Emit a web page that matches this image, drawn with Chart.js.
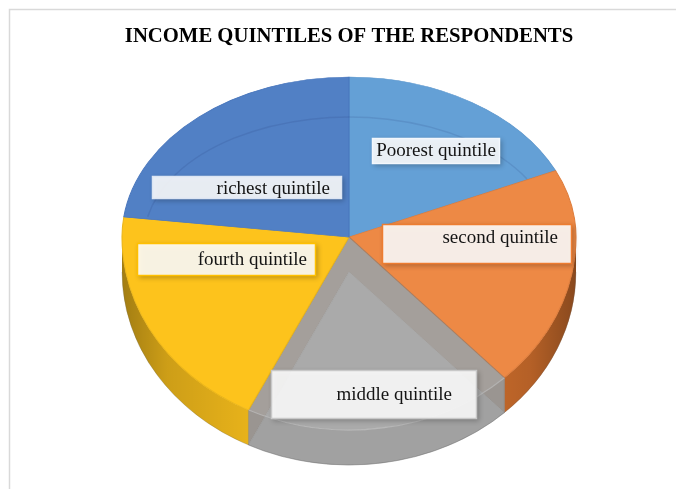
<!DOCTYPE html>
<html>
<head>
<meta charset="utf-8">
<title>Income quintiles of the respondents</title>
<script src="https://cdn.jsdelivr.net/npm/chart.js@4.4.1/dist/chart.umd.min.js"></script>
<style>
  html, body { margin: 0; padding: 0; background: #fff; }
  canvas { display: block; }
</style>
</head>
<body>
<canvas id="quintileChart" width="676" height="489"></canvas>
<script>
// Respondents by income quintile (% of sample)
const quintiles = ['Poorest quintile', 'second quintile', 'middle quintile', 'fourth quintile', 'richest quintile'];
const shares = [18.2, 19.8, 19.3, 19.7, 23.0];

// colours: top face, slice edge, side wall
const topColors = ['#64a0d6', '#ed8945', 'rgba(168,168,168,0.35)', '#fdc31c', '#5180c5'];
const edgeColors = ['#5a95cc', '#de7c3b', 'rgba(120,120,120,0.55)', '#eab51a', '#4a77bd'];
const wallColors = ['#4f86bd', '#dc752f', '#a4a4a4', '#efb81b', '#3f66a8'];
const GLASS = 2; // the see-through slice

// tilted disc: ellipse of the top face and thickness
const PIE = { cx: 349, cy: 237, rx: 227, ryBack: 160, ryFront: 193, depth: 35 };

// label boxes: [left, top, width, height, text right edge, text middle]
const labelBoxes = [
  [372, 138, 128, 26, 496, 151],
  [382, 224, 190, 40, 558, 238],
  [271, 370, 206, 49, 452, 395],
  [137, 243, 179, 33, 307, 260],
  [152, 176, 190, 23, 330, 189]
];
const labelBorders = ['#f3f7fc', '#ed7d31', '#c8c8c8', '#ffc000', '#dce5f3'];

function rimPoint(a, dz) {
  const ry = Math.sin(a) < 0 ? PIE.ryBack : PIE.ryFront;
  return [PIE.cx + PIE.rx * Math.cos(a), PIE.cy + ry * Math.sin(a) + dz];
}

function wallPath(ctx, a0, a1) {
  ctx.beginPath();
  ctx.ellipse(PIE.cx, PIE.cy, PIE.rx, PIE.ryFront, 0, a0, a1, false);
  ctx.ellipse(PIE.cx, PIE.cy + PIE.depth, PIE.rx, PIE.ryFront, 0, a1, a0, true);
  ctx.closePath();
}

const tiltedPie = {
  id: 'tiltedPie',
  beforeDraw(chart) {
    // chart frame
    const ctx = chart.ctx;
    ctx.save();
    ctx.strokeStyle = '#d9d9d9';
    ctx.lineWidth = 1.5;
    ctx.strokeRect(9.5, 9.5, 720, 520);
    ctx.restore();
  },
  beforeDatasetsDraw(chart) {
    const ctx = chart.ctx;
    const arcs = chart.getDatasetMeta(0).data;
    const { x, y, outerRadius } = arcs[0].getProps(['x', 'y', 'outerRadius'], true);
    const D = PIE.depth;

    ctx.save();
    const shade = ctx.createLinearGradient(PIE.cx - PIE.rx, 0, PIE.cx + PIE.rx, 0);
    shade.addColorStop(0, 'rgba(0,0,0,0.32)');
    shade.addColorStop(0.1, 'rgba(0,0,0,0.14)');
    shade.addColorStop(0.3, 'rgba(0,0,0,0.02)');
    shade.addColorStop(0.7, 'rgba(0,0,0,0.04)');
    shade.addColorStop(0.9, 'rgba(0,0,0,0.18)');
    shade.addColorStop(1, 'rgba(0,0,0,0.38)');

    // side walls (front half only)
    arcs.forEach((arc, i) => {
      const a0 = Math.max(arc.startAngle, 0);
      const a1 = Math.min(arc.endAngle, Math.PI);
      if (a1 <= a0) return;
      if (i === GLASS) {
        const s = arc.startAngle, e = arc.endAngle;
        // cut faces of the neighbours, seen through the slice
        ctx.fillStyle = '#a19a94';
        [s, e].forEach(a => {
          const p = rimPoint(a, 0), q = rimPoint(a, D);
          ctx.beginPath();
          ctx.moveTo(PIE.cx, PIE.cy);
          ctx.lineTo(p[0], p[1]);
          ctx.lineTo(q[0], q[1]);
          ctx.lineTo(PIE.cx, PIE.cy + D);
          ctx.closePath();
          ctx.fill();
        });
        // floor of the slice
        ctx.beginPath();
        ctx.moveTo(PIE.cx, PIE.cy + D);
        ctx.ellipse(PIE.cx, PIE.cy + D, PIE.rx, PIE.ryFront, 0, s, e, false);
        ctx.closePath();
        ctx.fillStyle = '#ababab';
        ctx.fill();
        ctx.strokeStyle = 'rgba(110,110,110,0.3)';
        ctx.lineWidth = 1;
        ctx.stroke();
        wallPath(ctx, a0, a1);
        ctx.fillStyle = 'rgba(140,140,140,0.3)';
        ctx.fill();
      } else {
        wallPath(ctx, a0, a1);
        ctx.fillStyle = wallColors[i];
        ctx.fill();
        ctx.fillStyle = shade;
        ctx.fill();
      }
    });

    // top faces: back half and front half squashed separately
    const halves = [[0, PIE.cy, PIE.ryBack], [PIE.cy, chart.height - PIE.cy, PIE.ryFront]];
    halves.forEach(([top, h, ry]) => {
      ctx.save();
      ctx.beginPath();
      ctx.rect(0, top, chart.width, h);
      ctx.clip();
      ctx.translate(PIE.cx, PIE.cy);
      ctx.scale(PIE.rx / outerRadius, ry / outerRadius);
      ctx.translate(-x, -y);
      arcs.forEach(arc => arc.draw(ctx));
      ctx.restore();
    });

    // bevel line on the back of the top face
    ctx.beginPath();
    ctx.ellipse(PIE.cx, 240, 205, 123, 0, Math.PI + 0.19, 2 * Math.PI - 0.52, false);
    ctx.strokeStyle = 'rgba(30,50,110,0.13)';
    ctx.lineWidth = 1.5;
    ctx.stroke();

    // vertical edges where the walls meet
    arcs.forEach(arc => {
      const a = arc.startAngle;
      if (a <= 0 || a >= Math.PI) return;
      const p = rimPoint(a, 0), q = rimPoint(a, D);
      ctx.beginPath();
      ctx.moveTo(p[0], p[1]);
      ctx.lineTo(q[0], q[1]);
      ctx.strokeStyle = 'rgba(90,90,90,0.35)';
      ctx.lineWidth = 1;
      ctx.stroke();
    });

    // rim of the glass slice
    const g = arcs[GLASS];
    ctx.beginPath();
    ctx.ellipse(PIE.cx, PIE.cy, PIE.rx, PIE.ryFront, 0, g.startAngle, g.endAngle, false);
    ctx.strokeStyle = 'rgba(255,255,255,0.35)';
    ctx.lineWidth = 1.2;
    ctx.stroke();
    ctx.beginPath();
    ctx.ellipse(PIE.cx, PIE.cy + D, PIE.rx, PIE.ryFront, 0, 0, Math.PI, false);
    ctx.strokeStyle = 'rgba(100,100,100,0.25)';
    ctx.lineWidth = 1;
    ctx.stroke();

    ctx.restore();
    return false;
  },
  afterDraw(chart) {
    const ctx = chart.ctx;
    ctx.save();
    ctx.font = "19px 'Liberation Serif', 'Times New Roman', serif";
    ctx.textAlign = 'right';
    ctx.textBaseline = 'middle';
    quintiles.forEach((name, i) => {
      const [bx, by, bw, bh, tx, ty] = labelBoxes[i];
      ctx.save();
      ctx.shadowColor = 'rgba(0,0,0,0.28)';
      ctx.shadowBlur = 5;
      ctx.shadowOffsetX = 2;
      ctx.shadowOffsetY = 2;
      ctx.fillStyle = 'rgba(255,255,255,0.88)';
      ctx.fillRect(bx, by, bw, bh);
      ctx.restore();
      ctx.strokeStyle = labelBorders[i];
      ctx.lineWidth = 1.5;
      ctx.strokeRect(bx + 0.5, by + 0.5, bw - 1, bh - 1);
      ctx.fillStyle = '#141414';
      ctx.fillText(name, tx, ty);
    });
    ctx.restore();
  }
};

new Chart(document.getElementById('quintileChart'), {
  type: 'pie',
  data: {
    labels: quintiles,
    datasets: [{
      data: shares,
      backgroundColor: topColors,
      borderColor: edgeColors,
      borderWidth: 1
    }]
  },
  options: {
    responsive: false,
    animation: false,
    events: [],
    layout: { padding: { left: 22 } },
    plugins: {
      legend: { display: false },
      tooltip: { enabled: false },
      title: {
        display: true,
        text: 'INCOME QUINTILES OF THE RESPONDENTS',
        color: '#000',
        font: { family: "'Liberation Serif', 'Times New Roman', serif", size: 20.7, weight: 'bold' },
        padding: { top: 24.6, bottom: 10 }
      }
    }
  },
  plugins: [tiltedPie]
});
</script>
</body>
</html>
